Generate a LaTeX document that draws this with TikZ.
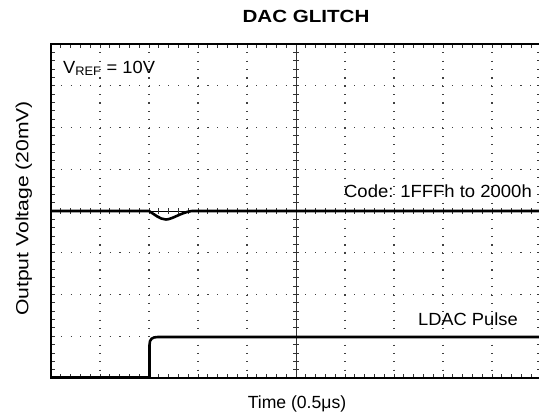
\documentclass[tikz,border=0pt]{standalone}
\usepackage{fontspec}
\setmainfont{Liberation Sans}
\begin{document}
\begin{tikzpicture}[x=1pt,y=-1pt,
  lbl/.style={inner sep=0pt, font=\fontsize{17.6}{20}\selectfont},
  ttl/.style={inner sep=0pt, font=\fontsize{17.6}{20}\selectfont\bfseries},
  trace/.style={line width=2.6pt, line join=round, line cap=butt},
  hdots/.style={line width=1.1pt, black!75, dash pattern=on 1.1pt off 8.68pt},
  vdots/.style={line width=1.1pt, black!75, dash pattern=on 1.1pt off 7.25pt},
  tick/.style={line width=0.9pt, black!80},
  frame/.style={line width=2.2pt}]
\useasboundingbox (0,0) rectangle (539,418);
\def\L{51}\def\R{541}\def\T{44}\def\B{378}
\def\dx{49}\def\dy{41.75}
% dotted grid
\foreach \k in {1,2,3,4,6,7,8,9}
  \draw[vdots] (\L+\k*\dx,\T) -- (\L+\k*\dx,\B);
\foreach \j in {1,2,3,5,6,7}
  \draw[hdots] (\L,\T+\j*\dy) -- (\R,\T+\j*\dy);
% center axes
\draw[line width=1pt, black!80] (\L+5*\dx,\T) -- (\L+5*\dx,\B);
\draw[line width=1pt] (\L,\T+4*\dy) -- (\R,\T+4*\dy);
% minor ticks
\foreach \i in {1,...,49}{
  \draw[tick] (\L+\i*9.8,\T) -- ++(0,4);
  \draw[tick] (\L+\i*9.8,\B) -- ++(0,-4);
  \draw[tick] (\L+\i*9.8,\T+4*\dy-3) -- ++(0,6);
}
\foreach \i in {1,...,39}{
  \draw[tick] (\L,\T+\i*8.35) -- ++(4,0);
  \draw[tick] (\R,\T+\i*8.35) -- ++(-4,0);
  \draw[tick] (\L+5*\dx-3,\T+\i*8.35) -- ++(6,0);
}
% frame
\draw[frame] (\L,\T) rectangle (\R,\B);
% traces
\draw[trace] (\L,211) -- (149,211) .. controls (154,214) and (160,219.5) .. (166,219.5)
  .. controls (172,219.5) and (182,212) .. (192,211) -- (\R,211);
\draw[trace] (\L,377.5) -- (149.5,377.5) -- (149.5,345) .. controls (149.5,339) and (152,337) .. (158,337) -- (\R,337);
% texts
\node[ttl, anchor=base] (title) at (306,22.5) {\scalebox{1.17}[1]{DAC GLITCH}};
\node[lbl, anchor=base west] (vref) at (63,73) {\scalebox{1.04}[1]{V\textsubscript{REF} = 10V}};
\node[lbl, anchor=base east] (code) at (532,197.3) {\scalebox{1.05}[1]{Code: 1FFFh to 2000h}};
\node[lbl, anchor=base east] (ldac) at (518,325.7) {\scalebox{1.04}[1]{LDAC Pulse}};
\node[lbl, anchor=base] (xlab) at (297,408.3) {Time (0.5μs)};
\node[lbl, anchor=base, rotate=90] (ylab) at (28.3,208.5) {\scalebox{1.2}[1]{Output Voltage (20mV)}};
\end{tikzpicture}
\end{document}
